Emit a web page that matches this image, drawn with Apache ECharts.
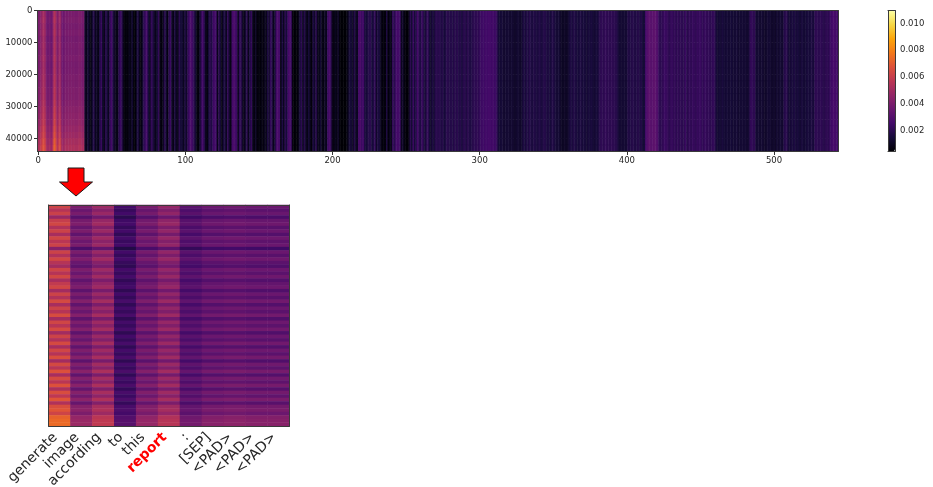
<!DOCTYPE html>
<html>
<head>
<meta charset="utf-8">
<title>attention heatmap</title>
<script src="https://cdn.jsdelivr.net/npm/echarts@6/dist/echarts.min.js"></script>
<style>
    html, body { margin: 0; padding: 0; background: #fff; }
    #main { width: 933px; height: 487px; }
</style>
</head>
<body>
<div id="main"></div>
<script>
// top map, one value per column, in units of 0.0001
var topColumnValues = [
    40,42,45,50,52,47,39,38,40,37,42,56,52,42,46,50,40,37,39,40,
    40,40,41,40,41,40,40,40,42,41,39,40,12,9,15,10,7,14,19,10,
    12,8,17,23,13,9,20,15,10,22,26,17,12,9,8,19,24,20,9,6,
    7,6,10,8,14,7,5,12,17,9,6,13,20,24,26,15,10,22,19,12,
    9,15,22,8,6,10,20,14,7,19,24,12,8,17,10,9,20,15,14,10,
    17,12,22,26,28,24,20,14,8,6,12,22,26,19,10,7,15,20,17,24,
    26,24,9,20,14,7,15,17,10,22,12,8,26,28,26,24,9,22,20,12,
    8,14,20,9,17,22,10,7,12,6,7,6,8,7,10,8,17,12,22,19,
    9,14,26,28,26,8,17,10,20,15,26,28,24,7,5,6,5,9,15,20,
    10,19,12,8,15,9,6,17,12,20,10,8,14,9,7,12,9,24,28,22,
    9,7,10,8,12,6,5,5,5,5,7,12,15,14,10,19,12,10,26,28,
    24,26,17,15,17,19,20,15,17,22,12,17,15,10,6,7,6,17,6,9,
    8,22,19,24,26,26,24,10,12,7,6,5,8,20,14,24,15,20,26,19,
    17,24,19,14,20,22,15,12,17,14,19,20,19,20,17,19,15,17,20,19,
    18,19,17,20,18,20,17,19,16,19,20,17,20,18,17,19,20,20,21,20,
    22,24,25,24,26,25,26,26,25,26,24,25,20,15,14,15,14,13,14,14,
    14,13,14,13,12,13,14,13,12,14,17,15,18,16,19,17,16,18,17,16,
    17,18,16,17,19,18,16,17,15,17,18,16,15,14,15,12,11,11,12,11,
    12,15,17,16,18,17,16,15,16,17,15,16,15,14,16,15,16,15,14,15,
    15,17,20,21,20,21,22,20,21,20,21,20,20,19,17,14,14,14,14,14,
    14,18,17,18,19,18,17,18,19,17,18,15,15,26,30,32,32,31,32,33,
    31,29,22,20,21,22,24,23,22,20,22,23,21,22,20,22,20,21,20,20,
    24,19,21,22,21,23,22,21,23,22,24,22,21,23,22,21,22,20,21,22,
    20,15,14,15,14,16,15,14,15,14,14,15,14,14,14,15,13,14,14,14,
    14,14,13,14,21,22,20,21,14,14,14,13,14,13,12,13,14,14,13,12,
    13,12,14,13,14,14,13,18,20,19,15,14,16,15,17,15,16,15,14,16,
    15,14,15,16,15,16,17,15,20,21,20,20,21,20,19,20,21,20,22,25,
    26,27,26,25
];
// the first columns get brighter towards the bottom, top to bottom here
var topLeadColumns = 32;
var topLeadRowGain = [0.98,1.0,0.97,0.99,0.96,0.98,0.97,0.99,0.97,0.98,1.0,1.0,1.02,1.02,1.05,1.08,1.1,1.13,1.17,1.21,1.27,1.31];
var topXTicks = [0, 100, 200, 300, 400, 500];
var topYTicks = [0, 10000, 20000, 30000, 40000];

// lower map
var tokens = ['generate', 'image', 'according', 'to', 'this', 'report', ':', '[SEP]', '<PAD>', '<PAD>', '<PAD>'];
var tokenValues = [60, 39, 47, 25, 38, 45, 31, 35, 36, 35, 35];
var tokenRowGain = [
    1.04,0.92,1.02,0.8,1.0,1.06,0.9,1.03,0.86,1.05,0.94,1.03,0.72,1.03,0.9,1.06,0.92,0.84,1.04,0.92,
    1.06,0.86,0.98,1.05,0.84,1.03,0.9,1.08,0.86,1.03,0.92,1.09,0.84,1.05,0.93,1.08,0.84,1.03,0.9,1.08,
    0.86,1.05,0.92,1.1,0.84,1.07,0.93,1.12,0.86,1.08,0.94,1.12,0.88,1.1,0.96,1.14,0.9,1.1,1.14,1.04,1.2,1.23,1.24
];
var highlightToken = 'report';

var colorMin = 0.00046;
var colorMax = 0.01096;
var colorTicks = [0.002, 0.004, 0.006, 0.008, 0.010];
var inferno = ['#000004', '#160b39', '#420a68', '#6a176e', '#932667', '#bc3754', '#dd513a', '#f37819', '#fca50a', '#f6d746', '#fcffa4'];

function indexList(n) {
    var list = [];
    for (var i = 0; i < n; ++i) {
        list.push(i);
    }
    return list;
}

function buildTopData() {
    var data = [];
    for (var r = 0; r < topLeadRowGain.length; ++r) {
        for (var c = 0; c < topColumnValues.length; ++c) {
            var gain = c < topLeadColumns ? topLeadRowGain[r] : 1;
            data.push([c, r, topColumnValues[c] * gain / 10000]);
        }
    }
    return data;
}

function buildTokenData() {
    var data = [];
    for (var r = 0; r < tokenRowGain.length; ++r) {
        for (var c = 0; c < tokens.length; ++c) {
            data.push([c, r, tokenValues[c] * tokenRowGain[r] / 10000]);
        }
    }
    return data;
}

var spine = {show: true, onZero: false, lineStyle: {color: '#3a3a3a', width: 1}};
var tickStyle = {
    color: '#262626', fontSize: 8.5, fontFamily: 'DejaVu Sans',
    formatter: function (value) {
        return String(value);
    }
};
var off = {show: false};

function plainAxis(gridIndex, position) {
    // only draws a frame edge
    return {
        type: 'category', gridIndex: gridIndex, position: position, z: 5,
        data: ['a'], axisLine: spine, axisTick: off, axisLabel: off, splitLine: off
    };
}

var option = {
    animation: false,
    backgroundColor: '#fff',
    grid: [
        {left: 37.5, top: 10.5, width: 800.5, height: 141, outerBoundsMode: 'none'},
        {left: 48.5, top: 205, width: 241, height: 221, outerBoundsMode: 'none'},
        {left: 888, top: 10.5, width: 7, height: 141, outerBoundsMode: 'none'}
    ],
    xAxis: [
        // top map: bands for the cells, numbers from the value axis
        {
            type: 'category', gridIndex: 0, position: 'top', z: 5, data: indexList(topColumnValues.length),
            axisLine: spine, axisTick: off, axisLabel: off, splitLine: off
        },
        {
            type: 'value', gridIndex: 0, position: 'bottom', z: 5, min: -0.5, max: 543.5,
            axisLine: spine, splitLine: off,
            axisTick: {length: 3.5, customValues: topXTicks, lineStyle: {color: '#333'}},
            axisLabel: Object.assign({customValues: topXTicks, margin: 5}, tickStyle)
        },
        // lower map
        {
            type: 'category', gridIndex: 1, position: 'bottom', z: 5, data: tokens,
            axisLine: spine, splitLine: off,
            axisTick: {length: 3.5, alignWithLabel: true, interval: 0, lineStyle: {color: '#333'}},
            axisLabel: {
                interval: 0, rotate: 45, margin: 5, padding: [0, 6, 0, 0],
                color: '#262626', fontSize: 14, fontFamily: 'DejaVu Sans',
                formatter: function (value) {
                    return value === highlightToken ? '{hot|' + value + '}' : value;
                },
                rich: {hot: {color: '#ff0000', fontWeight: 'bold', fontSize: 14, fontFamily: 'DejaVu Sans'}}
            }
        },
        plainAxis(1, 'top'),
        // colorbar frame
        plainAxis(2, 'bottom'),
        plainAxis(2, 'top')
    ],
    yAxis: [
        {
            type: 'category', gridIndex: 0, position: 'right', inverse: true, z: 5, data: indexList(topLeadRowGain.length),
            axisLine: spine, axisTick: off, axisLabel: off, splitLine: off
        },
        {
            type: 'value', gridIndex: 0, position: 'left', inverse: true, z: 5, min: 0, max: 44000,
            axisLine: spine, splitLine: off,
            axisTick: {length: 3.5, customValues: topYTicks, lineStyle: {color: '#333'}},
            axisLabel: Object.assign({customValues: topYTicks, margin: 5}, tickStyle)
        },
        {
            type: 'category', gridIndex: 1, position: 'left', inverse: true, z: 5, data: indexList(tokenRowGain.length),
            axisLine: spine, axisTick: off, axisLabel: off, splitLine: off
        },
        plainAxis(1, 'right'),
        plainAxis(2, 'left'),
        {
            type: 'value', gridIndex: 2, position: 'right', z: 5, min: colorMin, max: colorMax,
            axisLine: spine, splitLine: off,
            axisTick: {length: 3.5, customValues: colorTicks, lineStyle: {color: '#333'}},
            axisLabel: Object.assign({}, tickStyle, {
                customValues: colorTicks, margin: 5,
                formatter: function (value) {
                    return value.toFixed(3);
                }
            })
        }
    ],
    visualMap: {
        type: 'continuous',
        seriesIndex: [0, 1],
        dimension: 2,
        min: colorMin,
        max: colorMax,
        calculable: false,
        hoverLink: false,
        left: 888,
        top: 10.5,
        padding: 0,
        itemWidth: 7,
        itemHeight: 141,
        inRange: {color: inferno}
    },
    series: [
        {
            type: 'heatmap', xAxisIndex: 0, yAxisIndex: 0, progressive: 0, silent: true,
            data: buildTopData()
        },
        {
            type: 'heatmap', xAxisIndex: 2, yAxisIndex: 2, progressive: 0, silent: true,
            data: buildTokenData()
        }
    ],
    graphic: [{
        // arrow from the first columns to the lower map
        type: 'polygon',
        shape: {points: [[68, 168], [84, 168], [84, 182], [92.5, 182], [76, 196], [59.5, 182], [68, 182]]},
        style: {fill: '#ff0000', stroke: '#1a1a1a', lineWidth: 1}
    }]
};

var chart = echarts.init(document.getElementById('main'));
chart.setOption(option);
</script>
</body>
</html>
